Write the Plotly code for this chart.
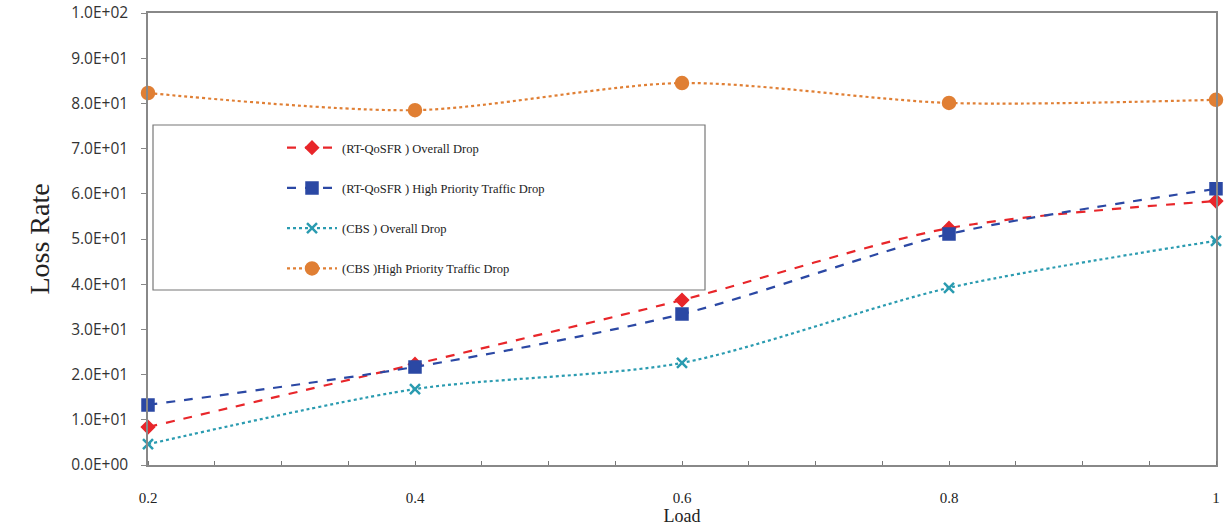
import plotly.graph_objects as go

load = [0.2, 0.4, 0.6, 0.8, 1.0]
rt_overall = [8.4, 22.3, 36.5, 52.4, 58.4]
rt_high = [13.3, 21.7, 33.4, 51.1, 61.1]
cbs_overall = [4.6, 16.8, 22.6, 39.2, 49.6]
cbs_high = [82.3, 78.5, 84.5, 80.1, 80.8]

names = ["(RT-QoSFR ) Overall Drop", "(RT-QoSFR ) High Priority Traffic Drop",
         "(CBS ) Overall Drop", "(CBS )High Priority Traffic Drop"]
y_tickvals = [0, 10, 20, 30, 40, 50, 60, 70, 80, 90, 100]
y_ticktext = ["0.0E+00", "1.0E+01", "2.0E+01", "3.0E+01", "4.0E+01", "5.0E+01",
              "6.0E+01", "7.0E+01", "8.0E+01", "9.0E+01", "1.0E+02"]
x_tickvals = [0.2, 0.4, 0.6, 0.8, 1.0]
x_ticktext = ["0.2", "0.4", "0.6", "0.8", "1"]

fig = go.Figure()
styles = [
    (rt_overall, "#e8262a", "dash", "diamond", 9),
    (rt_high, "#2b48a4", "dash", "square", 11),
    (cbs_overall, "#2a9bb0", "dot", "x-thin", 10),
    (cbs_high, "#e07f34", "dot", "circle", 12),
]
for i, (ys, col, dash, sym, sz) in enumerate(styles):
    fig.add_trace(go.Scatter(
        x=load, y=ys, name=names[i], mode="lines+markers",
        line=dict(color=col, dash=dash, width=2.2, shape="spline", smoothing=0.8),
        marker=dict(symbol=sym, size=sz, color=col, line=dict(color=col, width=2.5)),
        legendgroup=str(i), cliponaxis=False,
    ))

# legend frame
fig.add_shape(type="rect", xref="paper", yref="paper",
              x0=(153 - 148) / 1068, x1=(705 - 148) / 1068,
              y0=(465 - 290) / 452, y1=(465 - 125) / 452,
              line=dict(color="#777777", width=1.2), fillcolor="rgba(0,0,0,0)", layer="above")

fig.update_layout(
    width=1230, height=529,
    margin=dict(l=148, r=14, t=13, b=64, autoexpand=False),
    plot_bgcolor="white", paper_bgcolor="white",
    showlegend=True,
    legend=dict(x=(282 - 148) / 1068, y=(465 - 133) / 452, xanchor="left", yanchor="top",
                bgcolor="rgba(0,0,0,0)", borderwidth=0,
                font=dict(family="Liberation Serif", size=12.5, color="#222222"),
                tracegroupgap=21, itemwidth=50),
    xaxis=dict(range=[0.2, 1.0], tickvals=x_tickvals, ticktext=x_ticktext, automargin=False,
               showgrid=False, zeroline=False, showline=True, linecolor="#888888", linewidth=1.5,
               mirror=True, ticks="", ticklabelstandoff=18,
               tickfont=dict(family="Liberation Serif", size=15, color="#222222"),
               minor=dict(dtick=0.05, tick0=0.2, ticks="inside", ticklen=4, tickcolor="#777777"),
               title=dict(text="Load", font=dict(family="Liberation Serif", size=18, color="#222222"),
                          standoff=4)),
    yaxis=dict(range=[0, 100], tickvals=y_tickvals, ticktext=y_ticktext, automargin=False,
               showgrid=False, zeroline=False, showline=True, linecolor="#888888", linewidth=1.5,
               mirror=True, ticks="outside", ticklen=5, tickcolor="#888888", ticklabelstandoff=10,
               tickfont=dict(family="Open Sans", size=15.5, color="#333333"),
               title=dict(text="Loss Rate", font=dict(family="Liberation Serif", size=28, color="#222222"),
                          standoff=13)),
)
fig.write_html("out.html")
